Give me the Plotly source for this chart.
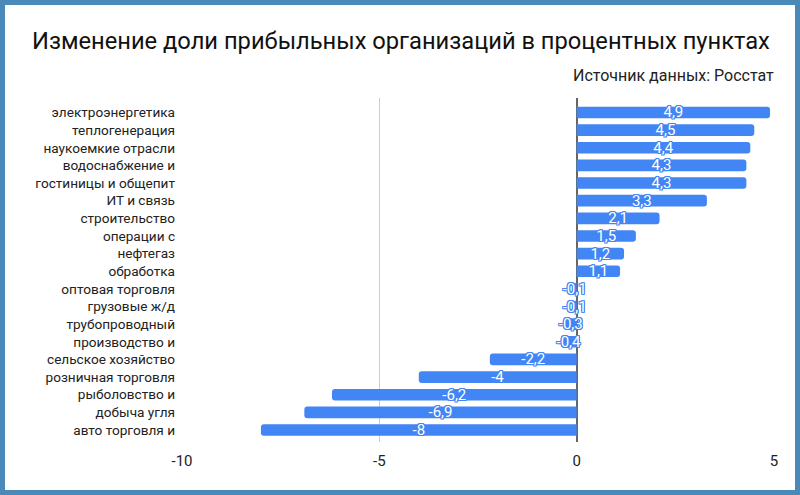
import plotly.graph_objects as go

categories = [
    "электроэнергетика", "теплогенерация", "наукоемкие отрасли", "водоснабжение и",
    "гостиницы и общепит", "ИТ и связь", "строительство", "операции с", "нефтегаз",
    "обработка", "оптовая торговля", "грузовые ж/д", "трубопроводный",
    "производство и", "сельское хозяйство", "розничная торговля", "рыболовство и",
    "добыча угля", "авто торговля и",
]
values = [4.9, 4.5, 4.4, 4.3, 4.3, 3.3, 2.1, 1.5, 1.2, 1.1,
          -0.1, -0.1, -0.3, -0.4, -2.2, -4, -6.2, -6.9, -8]
x_ticks = [-10, -5, 0, 5]

labels = [("%g" % v).replace(".", ",") for v in values]
BLUE = "#4285F4"
outline = ", ".join(f"{dx}px {dy}px 0 {BLUE}" for dx, dy in
                    [(-1, -1), (1, -1), (-1, 1), (1, 1), (0, 1), (0, -1), (1, 0), (-1, 0)])

fig = go.Figure(go.Bar(
    x=values, y=categories, orientation="h",
    marker=dict(color=BLUE, line=dict(width=0)),
    width=0.66,
    text=labels, textposition="inside", insidetextanchor="middle",
    textangle=0, constraintext="none", cliponaxis=False,
    textfont=dict(family="Roboto", size=15, color="white", shadow=outline),
    hoverinfo="skip",
))

W, H = 800, 495
ml, mr, mt, mb = 182, 26, 98, 53
pw, ph = W - ml - mr, H - mt - mb

def px(x):
    return (x - ml) / pw

def py(y):
    return 1 - (y - mt) / ph

fig.update_layout(
    width=W, height=H,
    margin=dict(l=ml, r=mr, t=mt, b=mb),
    paper_bgcolor="white", plot_bgcolor="white",
    barcornerradius=3,
    showlegend=False,
    font=dict(family="Roboto", color="#222"),
    xaxis=dict(
        range=[-10, 5], tickvals=x_ticks, ticktext=[str(t) for t in x_ticks],
        showgrid=True, gridcolor="#cccccc", gridwidth=1,
        zeroline=True, zerolinecolor="#666666", zerolinewidth=2,
        showline=False, ticks="", tickfont=dict(size=15, color="#222"),
        ticklabelstandoff=8, fixedrange=True,
    ),
    yaxis=dict(
        range=[18.5 + 0.18, -0.5 - 0.32],
        showgrid=False, zeroline=False, showline=False, ticks="",
        tickfont=dict(size=13.6, color="#222"), ticklabelstandoff=6,
        fixedrange=True,
    ),
    annotations=[
        dict(text="Изменение доли прибыльных организаций в процентных пунктах",
             x=px(30), y=py(41), xref="paper", yref="paper",
             xanchor="left", yanchor="middle", showarrow=False,
             font=dict(family="Roboto", size=23.7, color="#111")),
        dict(text="Источник данных: Росстат",
             x=px(776), y=py(75), xref="paper", yref="paper",
             xanchor="right", yanchor="middle", showarrow=False,
             font=dict(family="Roboto", size=16, color="#222")),
    ],
    shapes=[
        dict(type="rect", xref="paper", yref="paper",
             x0=px(2.5), x1=px(797.5), y0=py(2.5), y1=py(492.5),
             line=dict(color="#4A8AB9", width=5), fillcolor="rgba(0,0,0,0)",
             layer="above"),
    ],
)

fig.write_html("out.html", config={"displayModeBar": False},
               post_script="document.body.style.margin='0';document.body.style.padding='0';")
